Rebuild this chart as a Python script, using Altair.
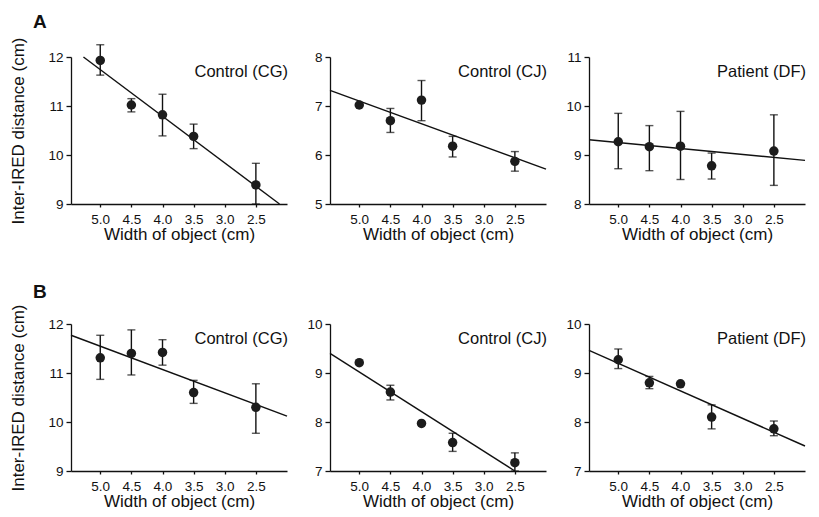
import altair as alt
import pandas as pd

# ---------------- data ----------------
widths = [5.0, 4.5, 4.0, 3.5, 2.5]
x_ticks = [5.0, 4.5, 4.0, 3.5, 3.0, 2.5]

# Row A
a_cg_mean = [11.93, 11.02, 10.82, 10.38, 9.39]
a_cg_lo = [11.63, 10.88, 10.39, 10.13, 9.00]
a_cg_hi = [12.25, 11.15, 11.24, 10.63, 9.83]
a_cg_line_x = [5.27, 2.12]
a_cg_line_y = [12.0, 9.0]

a_cj_mean = [7.02, 6.70, 7.12, 6.18, 5.87]
a_cj_lo = [None, 6.46, 6.70, 5.96, 5.67]
a_cj_hi = [None, 6.95, 7.52, 6.38, 6.07]
a_cj_line_x = [5.47, 2.0]
a_cj_line_y = [7.32, 5.71]

a_df_mean = [9.27, 9.17, 9.18, 8.78, 9.08]
a_df_lo = [8.72, 8.68, 8.50, 8.51, 8.38]
a_df_hi = [9.85, 9.60, 9.89, 9.04, 9.82]
a_df_line_x = [5.47, 2.0]
a_df_line_y = [9.31, 8.89]

# Row B
b_cg_mean = [11.31, 11.40, 11.42, 10.60, 10.30]
b_cg_lo = [10.87, 10.96, 11.16, 10.38, 9.77]
b_cg_hi = [11.77, 11.88, 11.68, 10.85, 10.78]
b_cg_line_x = [5.47, 2.0]
b_cg_line_y = [11.77, 10.12]

b_cj_mean = [9.21, 8.61, 7.97, 7.58, 7.17]
b_cj_lo = [None, 8.45, None, 7.40, 7.00]
b_cj_hi = [None, 8.75, None, 7.77, 7.37]
b_cj_line_x = [5.47, 2.5]
b_cj_line_y = [9.40, 7.00]

b_df_mean = [9.27, 8.80, 8.78, 8.10, 7.86]
b_df_lo = [9.09, 8.68, None, 7.86, 7.72]
b_df_hi = [9.49, 8.93, None, 8.35, 8.02]
b_df_line_x = [5.47, 2.0]
b_df_line_y = [9.46, 7.51]

W = 216
H = 147
FONT = "Liberation Sans"
INK = "#111111"


def panel(mean, lo, hi, lx, ly, ydom, label, ytitle, letter=None, letter_y=-29):
    df = pd.DataFrame({"w": widths, "m": mean, "lo": lo, "hi": hi})
    err = df.dropna()
    line_df = pd.DataFrame({"w": lx, "m": ly})

    xs = alt.Scale(domain=[2.0, 5.47], reverse=True, nice=False, zero=False)
    ys = alt.Scale(domain=ydom, nice=False, zero=False)
    xax = alt.Axis(values=x_ticks, format=".1f", title="Width of object (cm)")
    yax = alt.Axis(values=list(range(ydom[0], ydom[1] + 1)), format="d", title=ytitle)

    def X():
        return alt.X("w:Q", scale=xs, axis=xax)

    def Y(field):
        return alt.Y(field, scale=ys, axis=yax)

    line = alt.Chart(line_df).mark_line(color=INK, strokeWidth=1.4).encode(x=X(), y=Y("m:Q"))
    rules = alt.Chart(err).mark_rule(color=INK, strokeWidth=1.4).encode(
        x=X(), y=Y("lo:Q"), y2="hi:Q")
    cap_lo = alt.Chart(err).mark_tick(color=INK, orient="horizontal", size=8, thickness=1.4).encode(
        x=X(), y=Y("lo:Q"))
    cap_hi = alt.Chart(err).mark_tick(color=INK, orient="horizontal", size=8, thickness=1.4).encode(
        x=X(), y=Y("hi:Q"))
    pts = alt.Chart(df).mark_circle(size=90, color="#1c1c1c", opacity=1).encode(x=X(), y=Y("m:Q"))
    txt = alt.Chart(pd.DataFrame({"t": [label]})).mark_text(
        font=FONT, fontSize=16.5, color=INK, align="right", baseline="alphabetic"
    ).encode(text="t:N", x=alt.value(W + 1), y=alt.value(20))
    layers = [line, rules, cap_lo, cap_hi, pts, txt]
    if letter:
        let = alt.Chart(pd.DataFrame({"t": [letter]})).mark_text(
            font=FONT, fontSize=19, fontWeight="bold", color=INK, align="left", baseline="alphabetic"
        ).encode(text="t:N", x=alt.value(-38), y=alt.value(letter_y))
        layers.append(let)
    return alt.layer(*layers).properties(width=W, height=H)


YT = "Inter-IRED distance (cm)"

panels = [
    panel(a_cg_mean, a_cg_lo, a_cg_hi, a_cg_line_x, a_cg_line_y, [9, 12], "Control (CG)", YT, "A", -29),
    panel(a_cj_mean, a_cj_lo, a_cj_hi, a_cj_line_x, a_cj_line_y, [5, 8], "Control (CJ)", ""),
    panel(a_df_mean, a_df_lo, a_df_hi, a_df_line_x, a_df_line_y, [8, 11], "Patient (DF)", ""),
    panel(b_cg_mean, b_cg_lo, b_cg_hi, b_cg_line_x, b_cg_line_y, [9, 12], "Control (CG)", YT, "B", -26),
    panel(b_cj_mean, b_cj_lo, b_cj_hi, b_cj_line_x, b_cj_line_y, [7, 10], "Control (CJ)", ""),
    panel(b_df_mean, b_df_lo, b_df_hi, b_df_line_x, b_df_line_y, [7, 10], "Patient (DF)", ""),
]

chart = alt.concat(
    *panels, columns=3, spacing={"row": 120, "column": 43}, bounds="flush"
).properties(
    padding={"left": 1, "top": 5, "right": 0, "bottom": 5}
).configure_axis(
    domainColor=INK, tickColor=INK, labelColor=INK, titleColor=INK,
    labelFont=FONT, titleFont=FONT, labelFontSize=13.5, titleFontSize=17,
    titleFontWeight="normal", grid=False, domainWidth=1.3, tickWidth=1.3,
).configure_axisX(
    tickSize=3, labelPadding=5, titlePadding=1
).configure_axisY(
    tickSize=5, labelPadding=3, titlePadding=20
).configure_view(stroke=None)

chart.save("out.html", embed_options={"renderer": "svg", "actions": False})
